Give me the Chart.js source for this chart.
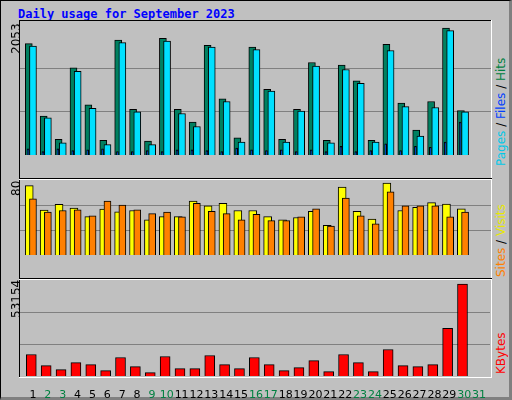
<!DOCTYPE html>
<html><head><meta charset="utf-8">
<script src="https://cdn.jsdelivr.net/npm/chart.js@4/dist/chart.umd.min.js"></script>
<style>
html,body{margin:0;padding:0;background:#c0c0c0;}
#frame{position:absolute;left:0;top:0;width:508px;height:396px;border:1px solid #000;border-right:3px solid #808080;border-bottom:3px solid #808080;background:#c0c0c0;}
.panel{position:absolute;left:20px;width:471px;background:#c0c0c0;}
.ln{position:absolute;left:19px;width:473px;height:1px;}
.rot{position:absolute;transform-origin:0 0;transform:rotate(-90deg);white-space:nowrap;font-family:"DejaVu Sans";font-size:12px;}
#title{position:absolute;left:18px;top:7px;font-family:"DejaVu Sans Mono";font-weight:bold;font-size:12px;color:#0000ff;}
</style></head><body>
<div id="frame"></div>
<div id="title">Daily usage for September 2023</div>
<div class="ln" style="top:20px;background:#000"></div>
<div style="position:absolute;left:19px;top:20px;width:1px;height:357px;background:#000"></div>
<div style="position:absolute;left:491px;top:20px;width:1px;height:357px;background:#fff"></div>
<div class="ln" style="top:377px;background:#fff"></div>
<div class="ln" style="top:178px;background:#000"></div>
<div class="ln" style="top:179px;background:#fff"></div>
<div class="ln" style="top:278px;background:#000"></div>
<div class="ln" style="top:279px;background:#fff"></div>
<div class="panel" style="top:24px;height:153px"><canvas id="c1"></canvas></div>
<div class="panel" style="top:180px;height:97px"><canvas id="c2"></canvas></div>
<div class="panel" style="top:280px;height:118px;background:transparent"><canvas id="c3"></canvas></div>
<div class="rot" style="left:9px;top:54px">2053</div>
<div class="rot" style="left:9px;top:196px">80</div>
<div class="rot" style="left:9px;top:318px">53154</div>
<div class="rot" style="left:494px;top:166px"><span style="color:#00c8e8">Pages</span> / <span style="color:#0040ff">Files</span> / <span style="color:#008040">Hits</span></div>
<div class="rot" style="left:494px;top:277px"><span style="color:#ff8000">Sites</span> / <span style="color:#e8e800">Visits</span></div>
<div class="rot" style="left:494px;top:374px;color:#ff0000">KBytes</div>
<script>
const days=[1,2,3,4,5,6,7,8,9,10,11,12,13,14,15,16,17,18,19,20,21,22,23,24,25,26,27,28,29,30,31];
const weekend=[2,3,9,10,16,17,23,24,30,31];
const hits=[1746,609,244,1367,785,230,1800,717,217,1827,717,514,1719,880,271,1692,1029,244,717,1449,230,1408,1164,230,1733,812,392,839,1990,695];
const files=[1706,582,190,1313,731,162,1760,677,162,1787,650,447,1692,839,203,1651,1002,203,690,1394,190,1340,1123,203,1638,758,298,744,1949,677];
const pages=[95,54,95,68,81,95,54,54,68,54,81,81,68,54,108,81,68,81,54,81,54,135,54,68,176,68,135,122,203,514];
const visits=[74,48,54,50,41,49,46,47.5,37.5,41,41,57.5,52.5,55,47.5,47.5,41,37.5,40,46.7,31.7,72.5,46.7,38.3,76.7,47.5,50.8,55.8,54.2,49.2];
const sites=[60,45.8,47.5,48.3,41.7,57.5,53.3,48.3,44.2,45.8,40.8,55,46.7,44.2,37.5,43.3,36.7,36.7,40.8,49.2,30.8,60.8,41.7,33.3,67.5,52.5,52.5,52.5,40.8,45.8];
const kbytes=[12416,6014,3686,7760,6596,3104,10670,5432,1940,11252,4268,4268,11834,6596,4268,10670,6596,3104,4850,8924,2522,12416,7760,2522,15326,6014,5432,6596,27548,53154];

const pts=(arr,off)=>arr.map((v,i)=>({x:days[i]+off,y:v}));
const ds=(arr,off,color,w,order)=>({data:pts(arr,off),backgroundColor:color,borderColor:'#000',borderWidth:1,barThickness:w,borderSkipped:'bottom',order});
const gridPlugin={id:'g',beforeDatasetsDraw(ch){const y=ch.scales.y,c=ch.ctx;c.save();c.strokeStyle='#808080';c.lineWidth=1;
 [1,2].forEach(k=>{const p=Math.round(y.getPixelForValue(y.max*k/3))+0.5;c.beginPath();c.moveTo(ch.chartArea.left,p);c.lineTo(ch.chartArea.right,p);c.stroke();});c.restore();}};
function make(id,datasets,ymax,showX){
 return new Chart(document.getElementById(id),{type:'bar',data:{datasets},plugins:[gridPlugin],
 options:{responsive:true,maintainAspectRatio:false,animation:false,layout:{padding:0},
 plugins:{legend:{display:false},tooltip:{enabled:false}},
 datasets:{bar:{grouped:false}},
 scales:{x:{type:'linear',offset:false,min:0.13,max:31.74,display:showX,grid:{display:false},border:{display:false},
   afterBuildTicks:s=>{s.ticks=days.map(v=>({value:v}));},
   afterFit:s=>{s.height=22;},
   ticks:{autoSkip:false,maxRotation:0,minRotation:0,padding:5,font:{family:'DejaVu Sans',size:11},
     color:c=>weekend.includes(c.tick.value)?'#008040':'#000',callback:v=>String(v)}},
  y:{display:false,min:0,max:ymax}}}});
}
make('c1',[ds(hits,-0.28,'#008060',7,2),ds(files,0,'#00e0ff',7,1),ds(pages,-0.33,'#0040ff',2,0)],2053,false);
make('c2',[ds(visits,-0.25,'#ffff00',8,1),ds(sites,0,'#ff8000',7,0)],80,false);
make('c3',[ds(kbytes,-0.11,'#ff0000',10,0)],55480,true);
</script></body></html>
